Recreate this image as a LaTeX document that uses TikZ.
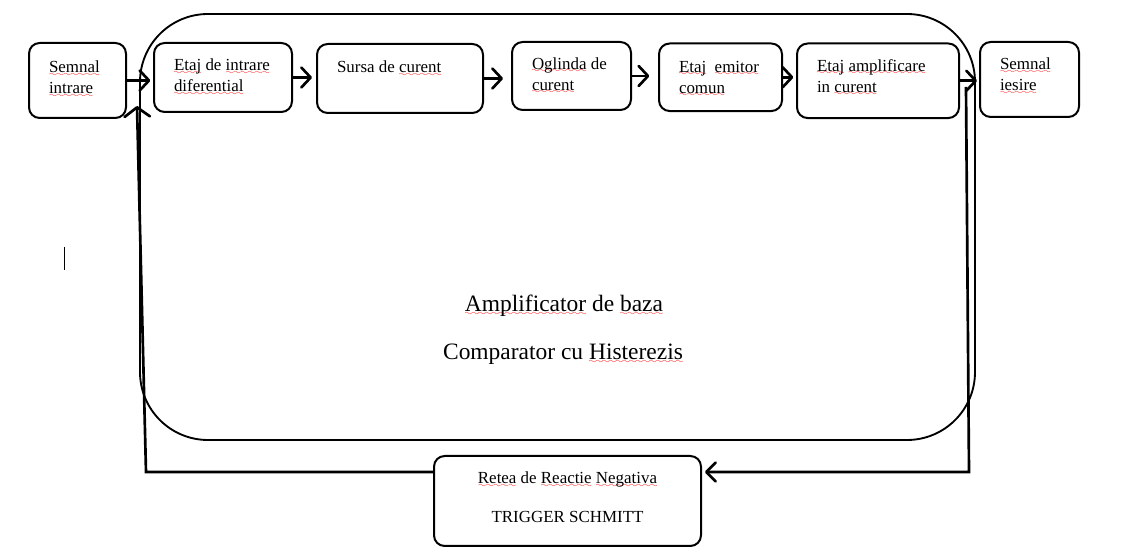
\documentclass[tikz,border=0pt]{standalone}
\usepackage{fontspec}
\setmainfont{Liberation Serif}
\usetikzlibrary{arrows.meta}

\newcommand{\boxfont}{\fontsize{12.7}{15.75}\selectfont}
\newcommand{\bigfont}{\fontsize{17.6}{21}\selectfont}
% red spelling squiggle under a word
\font\sqwave=lasy6
\newsavebox{\sqbox}
\newcommand{\sq}[1]{\leavevmode\sbox{\sqbox}{#1}%
  \rlap{\textcolor{red}{\lower2.3pt\hbox to\wd\sqbox{\xleaders\hbox{\sqwave\char58}\hfill}}}\usebox{\sqbox}}

\begin{document}
\begin{tikzpicture}[x=0.75pt, y=-0.75pt,
    blk/.style={draw, line width=1.5pt, rounded corners=8pt, anchor=north west,
      align=flush left, font=\boxfont, inner xsep=15pt, inner ysep=0pt, text height=21pt},
    big/.style={font=\bigfont, anchor=base, inner sep=0pt},
    flow/.style={line width=2pt, -{Straight Barb[length=7pt,width=15pt,round]}, shorten >=2pt},
    fb/.style={line width=2pt}]
    \useasboundingbox (0,0) rectangle (1146,555);

    % Draw the base amplifier frame and its titles
    \node[draw, line width=1.4pt, rounded corners=51pt, minimum width=626.25pt,
      minimum height=319.5pt, inner sep=0pt] (core) at (557.5,227) {};
    \node[big] (coreA) at (564,312) {\sq{Amplificator} de \sq{baza}};
    \node[big] (coreB) at (563,360) {Comparator cu \sq{Histerezis}};

    % Draw the stages of the chain
    \node[blk, text width=42.75pt, text height=22.5pt, text depth=33.75pt] (sin) at (28,42) {\sq{Semnal}\\\sq{intrare}};
    \node[blk, text width=73.5pt, text depth=30.75pt] (dif) at (153,42) {\mbox{\sq{Etaj} de \sq{intrare}}\\\sq{diferential}};
    \node[blk, text width=94.5pt, text height=21.75pt, text depth=30pt] (src) at (316,43) {Sursa de \sq{curent}};
    \node[blk, text width=59.25pt, text height=20.6pt, text depth=30.4pt] (mir) at (511,41) {\mbox{\sq{Oglinda} de}\\\sq{curent}};
    \node[blk, text width=62.25pt, text height=21.4pt, text depth=29.25pt] (emi) at (658,42.5) {\mbox{\sq{Etaj}\ \ \sq{emitor}}\\\sq{comun}};
    \node[blk, text width=91.5pt, text depth=34.9pt] (amp) at (796,42.5) {\mbox{\sq{Etaj} \sq{amplificare}}\\in \sq{curent}};
    \node[blk, text width=44.25pt, text depth=35.25pt] (sout) at (979,41) {\sq{Semnal}\\\sq{iesire}};

    % Draw the feedback network
    \node[blk, align=flush center, text width=170.25pt, text depth=46.5pt] (neg) at (433,455) {\sq{Retea} de \sq{Reactie} \sq{Negativa}\\[13.25pt]TRIGGER SCHMITT};

    % Forward flow along the chain
    \draw[flow] (sin.east) -- (sin.east -| dif.west);
    \draw[flow, shorten >=3pt] (dif.east) -- (dif.east -| src.west);
    \draw[flow, shorten >=6pt] (src.east) -- (src.east -| mir.west);
    \draw[flow, shorten >=6.5pt] (mir.east) -- (mir.east -| emi.west);
    \draw[flow] (emi.east) -- (emi.east -| amp.west);
    \draw[flow, shorten >=1.5pt] (amp.east) -- (amp.east -| sout.west);

    % Feedback loop back to the input stage
    \coordinate (tapT) at (966,87);
    \coordinate (tapB) at (969,472);
    \coordinate (retB) at (146,472);
    \coordinate (retT) at (137,106);
    \draw[fb, -{Straight Barb[length=7pt,width=14pt,round]}, shorten >=2.25pt] (tapT) -- (tapB) -- (tapB -| neg.east);
    \draw[fb, -{Straight Barb[length=7pt,width=19pt,round]}] (retB -| neg.west) -- (retB) -- (retT);

    % Text cursor
    \draw[line width=0.7pt] (64,247) -- (64,270);
\end{tikzpicture}
\end{document}
